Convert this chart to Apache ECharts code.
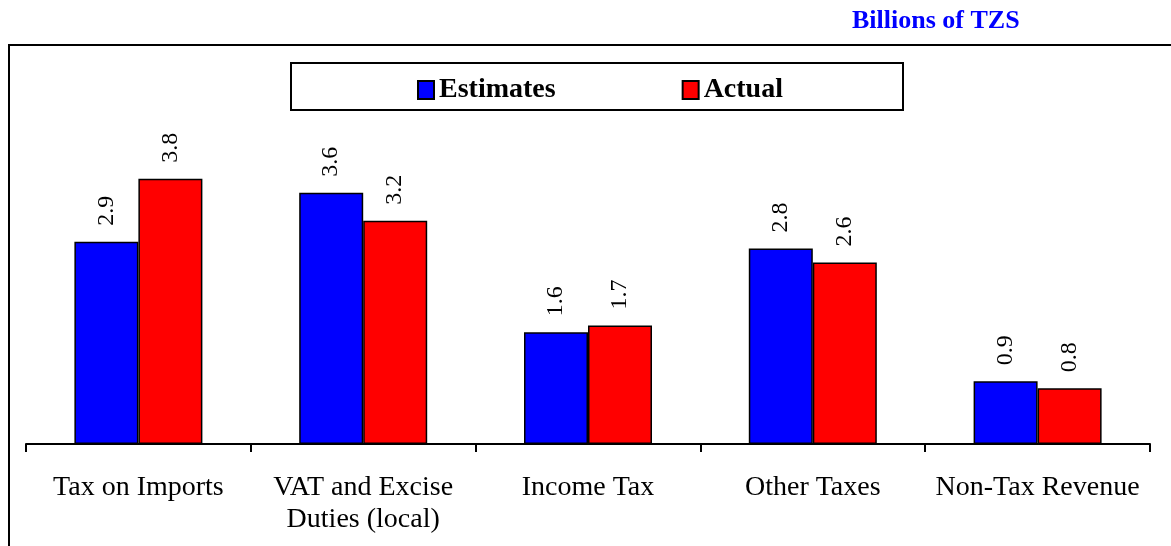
<!DOCTYPE html>
<html>
<head>
<meta charset="utf-8">
<script src="https://cdn.jsdelivr.net/npm/echarts@6/dist/echarts.min.js"></script>
<style>
  html, body { margin: 0; padding: 0; background: #fff; }
  #chart { width: 1171px; height: 546px; }
</style>
</head>
<body>
<div id="chart"></div>
<script>
// Revenue collections by category (Billions of TZS)
const categories = [
  'Tax on Imports',
  'VAT and Excise\nDuties (local)',
  'Income Tax',
  'Other Taxes',
  'Non-Tax Revenue'
];
const estimates = [2.9, 3.6, 1.6, 2.8, 0.9];
const actual = [3.8, 3.2, 1.7, 2.6, 0.8];
const seriesNames = ['Estimates', 'Actual'];
const unitTitle = 'Billions of TZS';

const serif = '"Liberation Serif", "Times New Roman", serif';

const chart = echarts.init(document.getElementById('chart'), null, { renderer: 'canvas' });

const valueLabel = {
  show: true,
  position: 'top',
  rotate: 90,
  align: 'left',
  verticalAlign: 'middle',
  distance: 16,
  fontFamily: serif,
  fontSize: 24,
  color: '#000',
  formatter: p => p.value.toFixed(1)
};

chart.setOption({
  backgroundColor: '#fff',
  animation: false,
  title: {
    text: unitTitle,
    left: 847,
    top: 3,
    textStyle: { fontFamily: serif, fontSize: 26, fontWeight: 'bold', color: '#0000ff' }
  },
  graphic: [
    {
      type: 'rect',
      shape: { x: 9, y: 45, width: 1200, height: 600 },
      style: { fill: null, stroke: '#000', lineWidth: 2 },
      silent: true
    },
    {
      type: 'rect',
      shape: { x: 291, y: 63, width: 612, height: 47 },
      style: { fill: '#fff', stroke: '#000', lineWidth: 2 },
      silent: true,
      z: 0
    }
  ],
  legend: {
    data: seriesNames,
    left: 412,
    top: 71,
    itemWidth: 16,
    itemHeight: 18,
    itemGap: 126,
    icon: 'rect',
    textStyle: { fontFamily: serif, fontSize: 28, fontWeight: 'bold', color: '#000' },
    z: 5
  },
  grid: { left: 26, right: 21, top: 130, bottom: 102, containLabel: false },
  xAxis: {
    type: 'category',
    data: categories,
    axisLine: { lineStyle: { color: '#000', width: 2 } },
    axisTick: { show: true, length: 8, lineStyle: { color: '#000', width: 2 } },
    axisLabel: {
      interval: 0,
      margin: 28,
      fontFamily: serif,
      fontSize: 28,
      lineHeight: 32,
      color: '#000'
    }
  },
  yAxis: {
    type: 'value',
    min: 0,
    max: 4.5,
    show: false,
    splitLine: { show: false }
  },
  series: [
    {
      name: seriesNames[0],
      type: 'bar',
      data: estimates,
      barWidth: 64,
      barGap: '0%',
      itemStyle: { color: '#0000ff', borderColor: '#000', borderWidth: 1.5 },
      label: valueLabel
    },
    {
      name: seriesNames[1],
      type: 'bar',
      data: actual,
      barWidth: 64,
      itemStyle: { color: '#ff0000', borderColor: '#000', borderWidth: 1.5 },
      label: valueLabel
    }
  ]
});
</script>
</body>
</html>
